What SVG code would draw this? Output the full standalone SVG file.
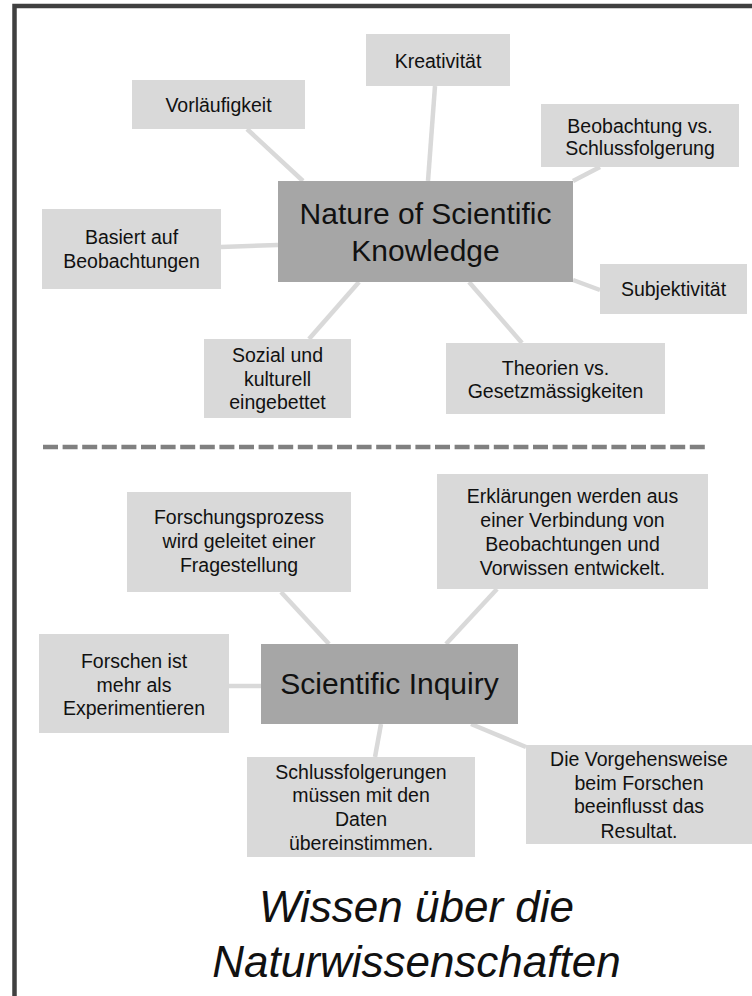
<svg xmlns="http://www.w3.org/2000/svg" width="752" height="996" viewBox="0 0 752 996">
<style>
.n{fill:#d9d9d9}
.c{fill:#a6a6a6}
.t{font-family:"Liberation Sans",Arial,sans-serif;font-size:19.5px;fill:#111;text-anchor:middle}
.tb{font-family:"Liberation Sans",Arial,sans-serif;font-size:30px;fill:#111;text-anchor:middle}
.ti{font-family:"Liberation Sans",Arial,sans-serif;font-size:44px;font-style:italic;fill:#111;text-anchor:middle}
#connectors line{stroke:#d9d9d9;stroke-width:4.5;stroke-linecap:butt}
</style>
<rect width="752" height="996" fill="#fff"/>
<path d="M14.5,996 V6 H752" fill="none" stroke="#404040" stroke-width="4.5"/>
<line x1="43" y1="447" x2="707" y2="447" stroke="#808080" stroke-width="4.5" stroke-dasharray="15 4.6"/>
<g id="connectors">
<line x1="247" y1="129" x2="303" y2="181"/>
<line x1="435" y1="86" x2="428" y2="181"/>
<line x1="600" y1="167" x2="573" y2="181"/>
<line x1="221" y1="247" x2="278" y2="245"/>
<line x1="573" y1="280" x2="600" y2="290"/>
<line x1="359" y1="282" x2="309" y2="339"/>
<line x1="469" y1="282" x2="522" y2="343"/>
<line x1="281" y1="592" x2="329" y2="644"/>
<line x1="497" y1="589" x2="446" y2="644"/>
<line x1="229" y1="686" x2="261" y2="686"/>
<line x1="381" y1="724" x2="375" y2="757"/>
<line x1="471" y1="724" x2="526" y2="747"/>
</g>
<g id="nosk">
<rect class="c" x="278" y="181" width="295" height="101"/>
<text class="tb" x="425.5" y="224">Nature of Scientific</text>
<text class="tb" x="425.5" y="260.5">Knowledge</text>
</g>
<g id="kreativitaet">
<rect class="n" x="366" y="34" width="144" height="52"/>
<text class="t" x="438" y="68">Kreativität</text>
</g>
<g id="vorlaeufigkeit">
<rect class="n" x="132" y="80" width="173" height="49"/>
<text class="t" x="218.5" y="111.5">Vorläufigkeit</text>
</g>
<g id="beobachtung">
<rect class="n" x="541" y="104" width="198" height="63"/>
<text class="t" x="640" y="133">Beobachtung vs.</text>
<text class="t" x="640" y="155">Schlussfolgerung</text>
</g>
<g id="basiert">
<rect class="n" x="42" y="209" width="179" height="80"/>
<text class="t" x="131.5" y="244">Basiert auf</text>
<text class="t" x="131.5" y="267.5">Beobachtungen</text>
</g>
<g id="subjektivitaet">
<rect class="n" x="600" y="264" width="147" height="50"/>
<text class="t" x="673.5" y="295.5">Subjektivität</text>
</g>
<g id="sozial">
<rect class="n" x="204" y="339" width="147" height="79"/>
<text class="t" x="277.5" y="362">Sozial und</text>
<text class="t" x="277.5" y="385.5">kulturell</text>
<text class="t" x="277.5" y="409">eingebettet</text>
</g>
<g id="theorien">
<rect class="n" x="446" y="343" width="219" height="71"/>
<text class="t" x="555.5" y="374.5">Theorien vs.</text>
<text class="t" x="555.5" y="398">Gesetzmässigkeiten</text>
</g>
<g id="inquiry">
<rect class="c" x="261" y="644" width="257" height="80"/>
<text class="tb" x="389.5" y="694">Scientific Inquiry</text>
</g>
<g id="forschungsprozess">
<rect class="n" x="127" y="492" width="224" height="100"/>
<text class="t" x="239" y="524">Forschungsprozess</text>
<text class="t" x="239" y="547.5">wird geleitet einer</text>
<text class="t" x="239" y="571.5">Fragestellung</text>
</g>
<g id="erklaerungen">
<rect class="n" x="437" y="474" width="271" height="115"/>
<text class="t" x="572.5" y="502.5">Erklärungen werden aus</text>
<text class="t" x="572.5" y="526.5">einer Verbindung von</text>
<text class="t" x="572.5" y="551">Beobachtungen und</text>
<text class="t" x="572.5" y="575">Vorwissen entwickelt.</text>
</g>
<g id="forschen">
<rect class="n" x="39" y="634" width="190" height="99"/>
<text class="t" x="134" y="667.5">Forschen ist</text>
<text class="t" x="134" y="691.5">mehr als</text>
<text class="t" x="134" y="715">Experimentieren</text>
</g>
<g id="schlussfolgerungen">
<rect class="n" x="247" y="757" width="228" height="100"/>
<text class="t" x="361" y="778.5">Schlussfolgerungen</text>
<text class="t" x="361" y="802">müssen mit den</text>
<text class="t" x="361" y="825.5">Daten</text>
<text class="t" x="361" y="849.5">übereinstimmen.</text>
</g>
<g id="vorgehensweise">
<rect class="n" x="526" y="745" width="226" height="99"/>
<text class="t" x="639" y="766">Die Vorgehensweise</text>
<text class="t" x="639" y="789.5">beim Forschen</text>
<text class="t" x="639" y="813">beeinflusst das</text>
<text class="t" x="639" y="837.5">Resultat.</text>
</g>
<g id="title">
<text class="ti" x="416.5" y="922">Wissen über die</text>
<text class="ti" x="416.5" y="977">Naturwissenschaften</text>
</g>
</svg>
